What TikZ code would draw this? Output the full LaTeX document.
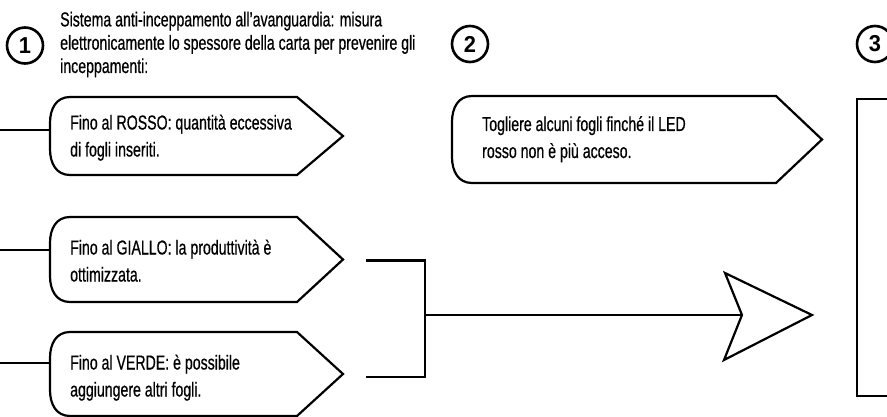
\documentclass[tikz,border=0pt]{standalone}
\usepackage{fontspec}
\setmainfont{Liberation Sans}[FakeStretch=0.70,FakeBold=0.6]
\newfontfamily\numfont{Liberation Sans}[FakeStretch=0.95]
\newcommand{\tagbox}[6]{% #1 name, #2 left x, #3 top y, #4 bottom y, #5 diagonal start x, #6 tip x
  \draw[tagline] (#5,#3) -- (#2+20,#3) .. controls (#2+6,#3) and (#2,#3+12) .. (#2,#3+26)
    -- (#2,#4-26) .. controls (#2,#4-12) and (#2+6,#4) .. (#2+20,#4)
    -- (#5,#4) -- (#6,{(#3+#4)/2}) -- cycle;
  \coordinate (#1tip) at (#6,{(#3+#4)/2});
}
\begin{document}
\begin{tikzpicture}[x=1pt,y=-1pt]
\tikzset{
  txt/.style={anchor=base west, inner sep=0pt, align=left, font=\fontsize{20.2}{27}\selectfont},
  head/.style={anchor=base west, inner sep=0pt, align=left, font=\fontsize{20.2}{23.3}\selectfont},
  numcirc/.style={circle, draw, line width=2.6pt, minimum size=36pt, inner sep=0pt, font=\numfont\fontsize{23}{23}\selectfont\bfseries},
  tagline/.style={draw, line width=2.2pt, line join=miter},
  conn/.style={line width=2.2pt},
}
\useasboundingbox (0,0) rectangle (887,417);
\clip (0,0) rectangle (887,417);

% numbered circles
\node[numcirc] (n1) at (25,45.5) {1};
\node[numcirc] (n2) at (470,44) {2};
\node[numcirc] (n3) at (875,44) {3};

% heading of step 1 (anchored at the baseline of its last line)
\node[head] (h1) at (60,73) {Sistema anti-inceppamento all'avanguardia: misura\\elettronicamente lo spessore della carta per prevenire gli\\inceppamenti:};

% tag boxes
\tagbox{rosso}{50}{97}{175}{297}{343}
\tagbox{giallo}{50}{217}{302}{297}{343}
\tagbox{verde}{50}{332}{416}{297}{343}
\tagbox{togli}{452}{96}{183}{776}{822}

\node[txt] (trosso) at (70,156.5) {Fino al ROSSO: quantità eccessiva\\di fogli inseriti.};
\node[txt] (tgiallo) at (70,281.5) {Fino al GIALLO: la produttività è\\ottimizzata.};
\node[txt] (tverde) at (70,396.5) {Fino al VERDE: è possibile\\aggiungere altri fogli.};
\node[txt] (ttogli) at (482,158) {Togliere alcuni fogli finché il LED\\rosso non è più acceso.};

% lines coming from the left
\coordinate (lr) at (0,130);   \coordinate (er) at (50,130);
\coordinate (lg) at (0,250);   \coordinate (eg) at (50,250);
\coordinate (lv) at (0,363);   \coordinate (ev) at (50,363);
\draw[conn] (lr) -- (er);
\draw[conn] (lg) -- (eg);
\draw[conn] (lv) -- (ev);

% bracket
\coordinate (bt) at (366,260.5);
\coordinate (btc) at (425,260.5);
\coordinate (bbc) at (425,377);
\coordinate (bb) at (366,377);
\coordinate (bm) at (425,315);
\draw[conn, line join=miter] (bt) -- (btc) -- (bbc) -- (bb);

% arrow
\coordinate (an) at (742,315);
\coordinate (at) at (725,273);
\coordinate (ap) at (812,315);
\coordinate (ab) at (724,360);
\draw[conn] (bm) -- (an);
\draw[tagline, fill=white] (an) -- (at) -- (ap) -- (ab) -- cycle;

% box of step 3
\node[draw, line width=2.2pt, anchor=north west, minimum width=60pt, minimum height=297pt, inner sep=0pt] (b3) at (856,98) {};
\end{tikzpicture}
\end{document}
